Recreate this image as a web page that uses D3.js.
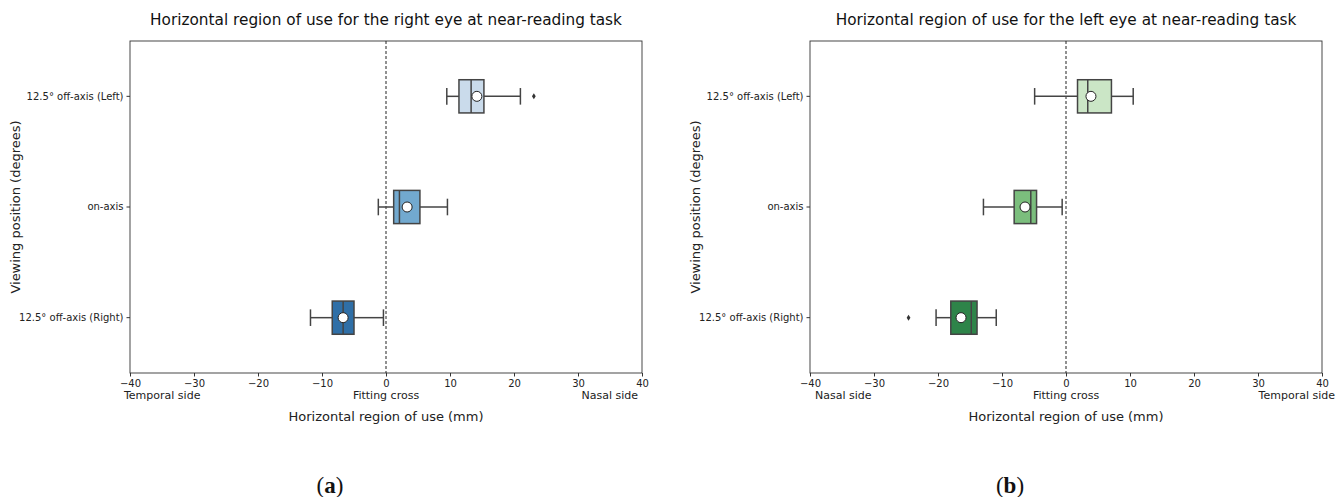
<!DOCTYPE html>
<html>
<head>
<meta charset="utf-8">
<script src="https://cdn.jsdelivr.net/npm/d3@7"></script>
<style>
  body { margin: 0; background: #fff; }
  svg { font-family: "DejaVu Sans", sans-serif; }
</style>
</head>
<body>
<svg id="chart" width="1340" height="497"></svg>
<script>
const categories = ["12.5° off-axis (Left)", "on-axis", "12.5° off-axis (Right)"];
const xTicks = [-40, -30, -20, -10, 0, 10, 20, 30, 40];

// box stats per category: [whisker low, q1, median, q3, whisker high]
const rightEyeStats = [[9.5, 11.4, 13.3, 15.3, 21.0], [-1.2, 1.2, 2.1, 5.3, 9.6], [-11.8, -8.4, -6.7, -5.0, -0.4]];
const rightEyeMeans = [14.2, 3.3, -6.7];
const rightEyeOutliers = [[23.1], [], []];
const rightEyeColors = ["#cadbeb", "#72a9cf", "#2f6fa7"];

const leftEyeStats = [[-4.9, 1.8, 3.4, 7.1, 10.5], [-12.9, -8.1, -5.5, -4.6, -0.6], [-20.3, -18.0, -14.8, -13.9, -10.9]];
const leftEyeMeans = [3.9, -6.4, -16.4];
const leftEyeOutliers = [[], [], [-24.6]];
const leftEyeColors = ["#cbe6c6", "#7bbe7d", "#2e8449"];

const panels = [
  { left: 130, title: "Horizontal region of use for the right eye at near-reading task",
    sides: ["Temporal side", "Nasal side"], sideShift: [-6, -4], stats: rightEyeStats, means: rightEyeMeans,
    outliers: rightEyeOutliers, colors: rightEyeColors, tag: "a" },
  { left: 810, title: "Horizontal region of use for the left eye at near-reading task",
    sides: ["Nasal side", "Temporal side"], sideShift: [5, 13], stats: leftEyeStats, means: leftEyeMeans,
    outliers: leftEyeOutliers, colors: leftEyeColors, tag: "b" }
];

const svg = d3.select("#chart");
const plotW = 512, plotTop = 41, plotH = 332;
const lineCol = "#444";

panels.forEach(p => {
  const g = svg.append("g").attr("transform", `translate(${p.left},${plotTop})`);
  const x = d3.scaleLinear().domain([-40, 40]).range([0, plotW]);
  const y = d3.scaleBand().domain(categories).range([0, plotH]).paddingInner(0).paddingOuter(0);
  const boxH = y.bandwidth() * 0.3;

  // frame
  g.append("rect").attr("width", plotW).attr("height", plotH)
    .attr("fill", "none").attr("stroke", "#333").attr("stroke-width", 0.9);

  // zero reference line
  g.append("line").attr("x1", x(0)).attr("x2", x(0)).attr("y1", 0).attr("y2", plotH)
    .attr("stroke", "#222").attr("stroke-width", 1).attr("stroke-dasharray", "3,2");

  // axes
  const xAxis = g.append("g").attr("transform", `translate(0,${plotH})`)
    .call(d3.axisBottom(x).tickValues(xTicks).tickSize(3.5).tickPadding(3)
      .tickFormat(d => d < 0 ? "\u2212" + Math.abs(d) : d));
  const yAxis = g.append("g")
    .call(d3.axisLeft(y).tickSize(3.5).tickPadding(3));
  [xAxis, yAxis].forEach(a => {
    a.select(".domain").remove();
    a.selectAll("line").attr("stroke", "#333");
    a.selectAll("text").attr("font-size", 10).attr("fill", "#222").attr("font-family", "DejaVu Sans");
  });

  // boxes
  categories.forEach((c, i) => {
    const [lo, q1, med, q3, hi] = p.stats[i];
    const cy = y(c) + y.bandwidth() / 2;
    const b = g.append("g");
    b.append("line").attr("x1", x(lo)).attr("x2", x(q1)).attr("y1", cy).attr("y2", cy)
      .attr("stroke", lineCol).attr("stroke-width", 1.5);
    b.append("line").attr("x1", x(q3)).attr("x2", x(hi)).attr("y1", cy).attr("y2", cy)
      .attr("stroke", lineCol).attr("stroke-width", 1.5);
    [lo, hi].forEach(v => b.append("line").attr("x1", x(v)).attr("x2", x(v))
      .attr("y1", cy - boxH / 4).attr("y2", cy + boxH / 4)
      .attr("stroke", lineCol).attr("stroke-width", 1.5));
    b.append("rect").attr("x", x(q1)).attr("y", cy - boxH / 2)
      .attr("width", x(q3) - x(q1)).attr("height", boxH)
      .attr("fill", p.colors[i]).attr("stroke", lineCol).attr("stroke-width", 1.5);
    b.append("line").attr("x1", x(med)).attr("x2", x(med))
      .attr("y1", cy - boxH / 2).attr("y2", cy + boxH / 2)
      .attr("stroke", lineCol).attr("stroke-width", 1.5);
    b.append("circle").attr("cx", x(p.means[i])).attr("cy", cy).attr("r", 5)
      .attr("fill", "#fff").attr("stroke", "#222").attr("stroke-width", 1);
    p.outliers[i].forEach(v => b.append("path")
      .attr("d", d3.symbol(d3.symbolDiamond2, 16)())
      .attr("transform", `translate(${x(v)},${cy}) scale(0.75,1.2)`)
      .attr("fill", "#333"));
  });

  // side labels
  const sideY = plotH + 26;
  g.append("text").attr("x", p.sideShift[0]).attr("y", sideY).attr("font-size", 11)
    .attr("fill", "#222").text(p.sides[0]);
  g.append("text").attr("x", x(0)).attr("y", sideY).attr("font-size", 11)
    .attr("text-anchor", "middle").attr("fill", "#222").text("Fitting cross");
  g.append("text").attr("x", plotW + p.sideShift[1]).attr("y", sideY).attr("font-size", 11)
    .attr("text-anchor", "end").attr("fill", "#222").text(p.sides[1]);

  // axis titles
  g.append("text").attr("x", plotW / 2).attr("y", plotH + 48).attr("font-size", 13)
    .attr("text-anchor", "middle").attr("fill", "#222").text("Horizontal region of use (mm)");
  g.append("text").attr("transform", `translate(${-110},${plotH / 2}) rotate(-90)`)
    .attr("font-size", 13).attr("text-anchor", "middle").attr("fill", "#222")
    .text("Viewing position (degrees)");
  g.append("text").attr("x", plotW / 2).attr("y", -16).attr("font-size", 15.3)
    .attr("text-anchor", "middle").attr("fill", "#111").text(p.title);

  // panel tag
  const tag = g.append("text").attr("x", plotW / 2 - 56).attr("y", plotH + 120)
    .attr("font-family", "Liberation Serif, serif").attr("font-size", 23)
    .attr("text-anchor", "middle").attr("fill", "#111");
  tag.append("tspan").text("(");
  tag.append("tspan").attr("font-weight", "bold").text(p.tag);
  tag.append("tspan").text(")");
});
</script>
</body>
</html>
